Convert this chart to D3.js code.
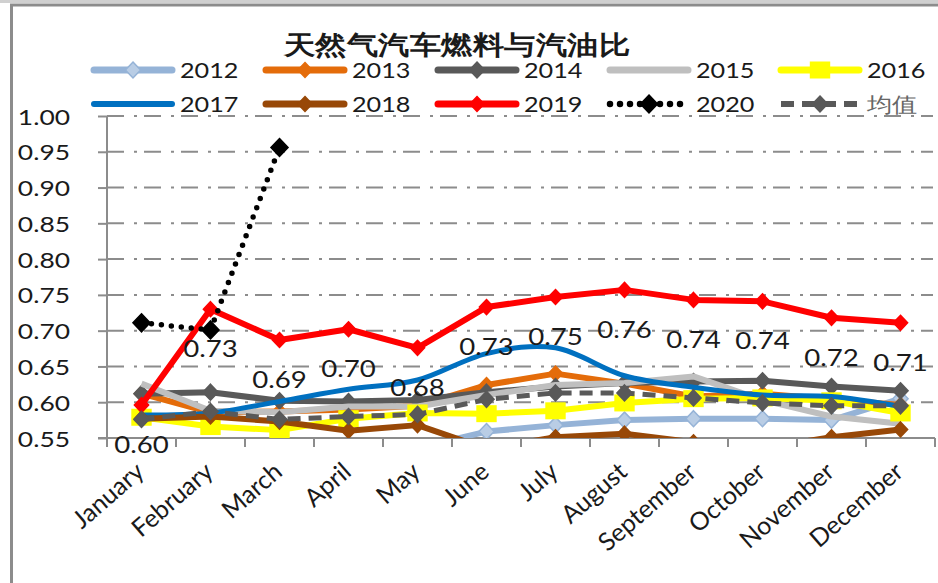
<!DOCTYPE html>
<html>
<head>
<meta charset="utf-8">
<script src="https://cdn.jsdelivr.net/npm/d3@7"></script>
<style>
  body { margin: 0; background: #fff; }
  svg text { font-family: Lato, "Open Sans", sans-serif; }
</style>
</head>
<body>
<div id="chart"></div>
<script>
var months = ["January", "February", "March", "April", "May", "June",
              "July", "August", "September", "October", "November", "December"];
var yTicks = [0.55, 0.60, 0.65, 0.70, 0.75, 0.80, 0.85, 0.90, 0.95, 1.00];

var y2012 = [0.525, 0.528, 0.530, 0.532, 0.536, 0.559, 0.568, 0.575, 0.577, 0.577, 0.575, 0.605];
var y2013 = [0.612, 0.586, 0.587, 0.590, 0.595, 0.624, 0.640, 0.626, 0.608, 0.612, 0.604, 0.596];
var y2014 = [0.612, 0.614, 0.602, 0.601, 0.603, 0.614, 0.622, 0.627, 0.629, 0.630, 0.622, 0.616];
var y2015 = [0.626, 0.588, 0.586, 0.594, 0.594, 0.610, 0.624, 0.627, 0.636, 0.603, 0.580, 0.570];
var y2016 = [0.579, 0.566, 0.561, 0.577, 0.585, 0.584, 0.588, 0.599, 0.605, 0.606, 0.602, 0.585];
var y2017 = [0.582, 0.585, 0.601, 0.618, 0.631, 0.668, 0.676, 0.637, 0.621, 0.610, 0.608, 0.594];
var y2018 = [0.577, 0.580, 0.573, 0.560, 0.568, 0.535, 0.551, 0.556, 0.544, 0.536, 0.551, 0.562];
var y2019 = [0.596, 0.730, 0.687, 0.702, 0.676, 0.733, 0.747, 0.757, 0.743, 0.741, 0.718, 0.711];
var y2020 = [0.711, 0.701, 0.956];
var yAvg  = [0.576, 0.587, 0.576, 0.580, 0.583, 0.604, 0.613, 0.613, 0.606, 0.599, 0.595, 0.595];

var W = 938, H = 583;
var SX = 1.2; // the source picture is stretched sideways

var series = [
    {name: "2012", values: y2012, color: "#95B3D7", width: 6, marker: "diamond", mfill: "#B9CDE5", msize: 16},
    {name: "2013", values: y2013, color: "#E46C0A", width: 6, marker: "diamond", mfill: "#E46C0A", msize: 15},
    {name: "2014", values: y2014, color: "#595959", width: 6, marker: "diamond", mfill: "#595959", msize: 16},
    {name: "2015", values: y2015, color: "#BFBFBF", width: 6, marker: null},
    {name: "2016", values: y2016, color: "#FFFF00", width: 6, marker: "square", mfill: "#FFFF00", msize: 17},
    {name: "2017", values: y2017, color: "#0070C0", width: 5, marker: null, smooth: true},
    {name: "2018", values: y2018, color: "#984807", width: 6, marker: "diamond", mfill: "#984807", msize: 15},
    {name: "2019", values: y2019, color: "#FF0000", width: 6, marker: "diamond", mfill: "#FF0000", msize: 15},
    {name: "2020", values: y2020, color: "#000000", width: 5.5, marker: "diamond", mfill: "#000000", msize: 18, dash: "0,10", cap: "round"},
    {name: "均值", values: yAvg, color: "#595959", width: 5, marker: "diamond", mfill: "#595959", msize: 16, dash: "13,8"}
];

var svg = d3.select("#chart").append("svg")
    .attr("width", W)
    .attr("height", H);

function stretchText(g, x, y, str) {
    return g.append("text")
        .attr("transform", "translate(" + x + "," + y + ") scale(" + SX + ",1)")
        .text(str);
}

// window frame bits
svg.append("rect").attr("x", 0).attr("y", 0).attr("width", W).attr("height", 3).attr("fill", "#d0d0d0");
svg.append("line").attr("x1", 10).attr("x2", W).attr("y1", 5).attr("y2", 5)
    .attr("stroke", "#8c8c8c").attr("stroke-width", 3);
svg.append("line").attr("x1", 11.5).attr("x2", 11.5).attr("y1", 5).attr("y2", H)
    .attr("stroke", "#8c8c8c").attr("stroke-width", 3);

var xScale = d3.scaleBand()
    .domain(months)
    .range([107, 935]);
var yScale = d3.scaleLinear()
    .domain([0.55, 1.00])
    .range([438, 116]);
var cx = function(i) { return xScale(months[i]) + xScale.bandwidth() / 2; };

// gridlines
svg.append("g")
    .selectAll("line")
    .data(yTicks.slice(1))
    .enter().append("line")
    .attr("x1", 107).attr("x2", 933)
    .attr("y1", d => yScale(d)).attr("y2", d => yScale(d))
    .attr("stroke", "#8c8c8c")
    .attr("stroke-width", 2)
    .attr("stroke-dasharray", "17,10,3,7");

// axes
var yAxis = svg.append("g")
    .attr("transform", "translate(107,0)")
    .call(d3.axisLeft(yScale).tickValues(yTicks).tickSize(9).tickFormat(d3.format(".2f")));
var xAxis = svg.append("g")
    .attr("transform", "translate(0,438)")
    .call(d3.axisBottom(xScale).tickSize(0).tickFormat(""));
xAxis.selectAll(".tick").remove();
xAxis.selectAll("line.cat")
    .data(d3.range(13))
    .enter().append("line")
    .attr("class", "cat")
    .attr("x1", i => 107 + i * xScale.step()).attr("x2", i => 107 + i * xScale.step())
    .attr("y1", 0).attr("y2", 9);
svg.selectAll(".domain, .tick line, line.cat")
    .attr("stroke", "#8c8c8c")
    .attr("stroke-width", 2);
xAxis.select(".domain").attr("d", "M98,0H935");
yAxis.select(".domain").attr("d", "M0,438V116");
yAxis.selectAll(".tick text").remove();
yAxis.selectAll(".tick").each(function(d) {
    stretchText(d3.select(this), -37, 8, d3.format(".2f")(d))
        .attr("text-anchor", "end")
        .attr("font-size", 22)
        .attr("fill", "#1a1a1a");
});

// month labels
svg.append("g")
    .selectAll("text")
    .data(months)
    .enter().append("text")
    .attr("transform", (d, i) => "translate(" + (cx(i) - 8) + ",460) rotate(-41)")
    .attr("text-anchor", "end")
    .attr("dy", "0.75em")
    .attr("font-size", 25)
    .attr("fill", "#1a1a1a")
    .text(d => d);

// plot
svg.append("clipPath").attr("id", "plotClip")
    .append("rect").attr("x", 97).attr("y", 100).attr("width", 845).attr("height", 338);
var plot = svg.append("g").attr("clip-path", "url(#plotClip)");

function drawMarker(g, s, x, y) {
    if (s.marker === "diamond") {
        var h = s.msize / 2;
        g.append("path")
            .attr("d", "M" + x + "," + (y - h) + "L" + (x + h * 0.95) + "," + y + "L" + x + "," + (y + h) + "L" + (x - h * 0.95) + "," + y + "Z")
            .attr("fill", s.mfill)
            .attr("stroke", s.color)
            .attr("stroke-width", 1.5);
    } else if (s.marker === "square") {
        g.append("rect")
            .attr("x", x - s.msize * 0.6).attr("y", y - s.msize / 2)
            .attr("width", s.msize * 1.2).attr("height", s.msize)
            .attr("fill", s.mfill);
    }
}

series.forEach(function(s) {
    var line = d3.line()
        .x((d, i) => cx(i))
        .y(d => yScale(d))
        .curve(s.smooth ? d3.curveCardinal : d3.curveLinear);
    plot.append("path")
        .datum(s.values)
        .attr("d", line)
        .attr("fill", "none")
        .attr("stroke", s.color)
        .attr("stroke-width", s.width)
        .attr("stroke-linejoin", "round")
        .attr("stroke-linecap", s.cap || "butt")
        .attr("stroke-dasharray", s.dash || null);
    if (s.marker) {
        var mg = plot.append("g");
        s.values.forEach(function(v, i) { drawMarker(mg, s, cx(i), yScale(v)); });
    }
});

// 2019 data labels
var labels = svg.append("g");
y2019.forEach(function(v, i) {
    stretchText(labels, cx(i), yScale(v) + 48, d3.format(".2f")(v))
        .attr("text-anchor", "middle")
        .attr("font-size", 23)
        .attr("fill", "#1a1a1a");
});

// title
stretchText(svg, 457, 54, "天然气汽车燃料与汽油比")
    .attr("text-anchor", "middle")
    .attr("font-family", "'Noto Sans CJK SC', sans-serif")
    .attr("font-weight", 700)
    .attr("font-size", 26)
    .attr("fill", "#1a1a1a");

// legend
var legX = [91, 263, 435, 607, 778];
var legY = [70, 104];
var legend = svg.append("g");
series.forEach(function(s, k) {
    var x0 = legX[k % 5], y0 = legY[Math.floor(k / 5)];
    legend.append("line")
        .attr("x1", x0 + 3).attr("x2", x0 + 81)
        .attr("y1", y0).attr("y2", y0)
        .attr("stroke", s.color)
        .attr("stroke-width", s.width + 1)
        .attr("stroke-linecap", s.dash ? (s.cap || "butt") : "round")
        .attr("stroke-dasharray", s.dash || null);
    if (s.marker) drawMarker(legend, s, x0 + 42, y0);
    stretchText(legend, x0 + 89, y0 + 8, s.name)
        .attr("font-size", 21)
        .attr("font-family", s.name === "均值" ? "'Noto Sans CJK SC', sans-serif" : null)
        .attr("fill", s.name === "均值" ? "#666" : "#1a1a1a");
});
</script>
</body>
</html>
